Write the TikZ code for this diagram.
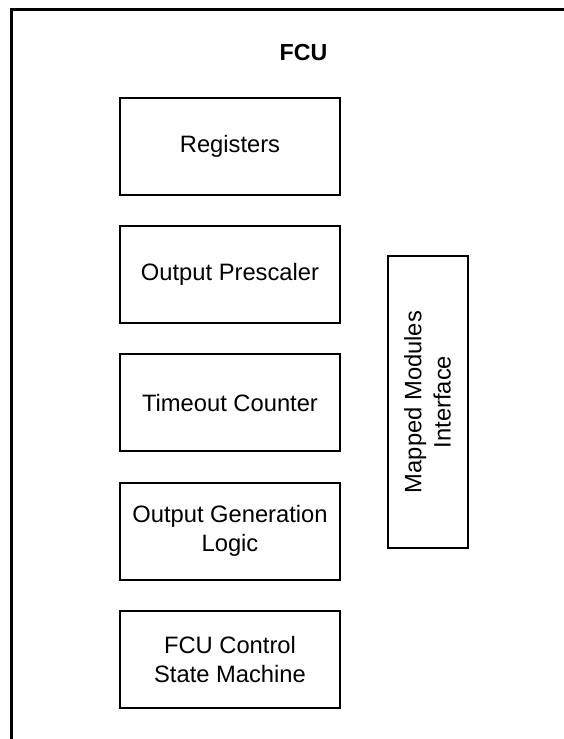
\documentclass[tikz,border=0pt]{standalone}
\usepackage{fontspec}
\setmainfont{Liberation Sans}
\usetikzlibrary{positioning}

\begin{document}
\begin{tikzpicture}[
  x=0.75pt, y=-0.75pt,
  blockbox/.style={draw, line width=1.5pt, minimum width=165pt, minimum height=72.75pt,
    align=center, font=\fontsize{17.8}{22}\selectfont, inner sep=2pt},
  titlenode/.style={font=\fontsize{17.4}{21}\selectfont\bfseries, inner sep=0pt},
  frameline/.style={line width=2.3pt}
]
  %------------------------------------------------------------
  %  PARAMETERS
  %------------------------------------------------------------
  \def\gap{21.9pt}   % vertical gap between the blocks

  \useasboundingbox (0,0) rectangle (564,739);

  %------------------------------------------------------------
  %  OUTER FRAME
  %------------------------------------------------------------
  \coordinate (FTR) at (570,9.5);
  \coordinate (FTL) at (11.5,9.5);
  \coordinate (FBL) at (11.5,745);
  \draw[frameline] (FTR) -- (FTL) -- (FBL);

  \node[titlenode] (FCU) at (303.5,52.5) {FCU};

  %------------------------------------------------------------
  %  LEFT COLUMN OF BLOCKS
  %------------------------------------------------------------
  \node[blockbox] (REG) at (230,146.5) {Registers};
  \node[blockbox, below=\gap of REG] (OPS) {Output Prescaler};
  \node[blockbox, below=\gap of OPS] (TOC) {Timeout Counter};
  \node[blockbox, below=\gap of TOC] (OGL) {Output Generation\\Logic};
  \node[blockbox, below=\gap of OGL] (CSM) {FCU Control\\State Machine};

  %------------------------------------------------------------
  %  INTERFACE BLOCK
  %------------------------------------------------------------
  \node[blockbox, rotate=90, minimum width=219pt, minimum height=60pt]
    (MMI) at (427.5,402) {Mapped Modules\\Interface};

\end{tikzpicture}
\end{document}
